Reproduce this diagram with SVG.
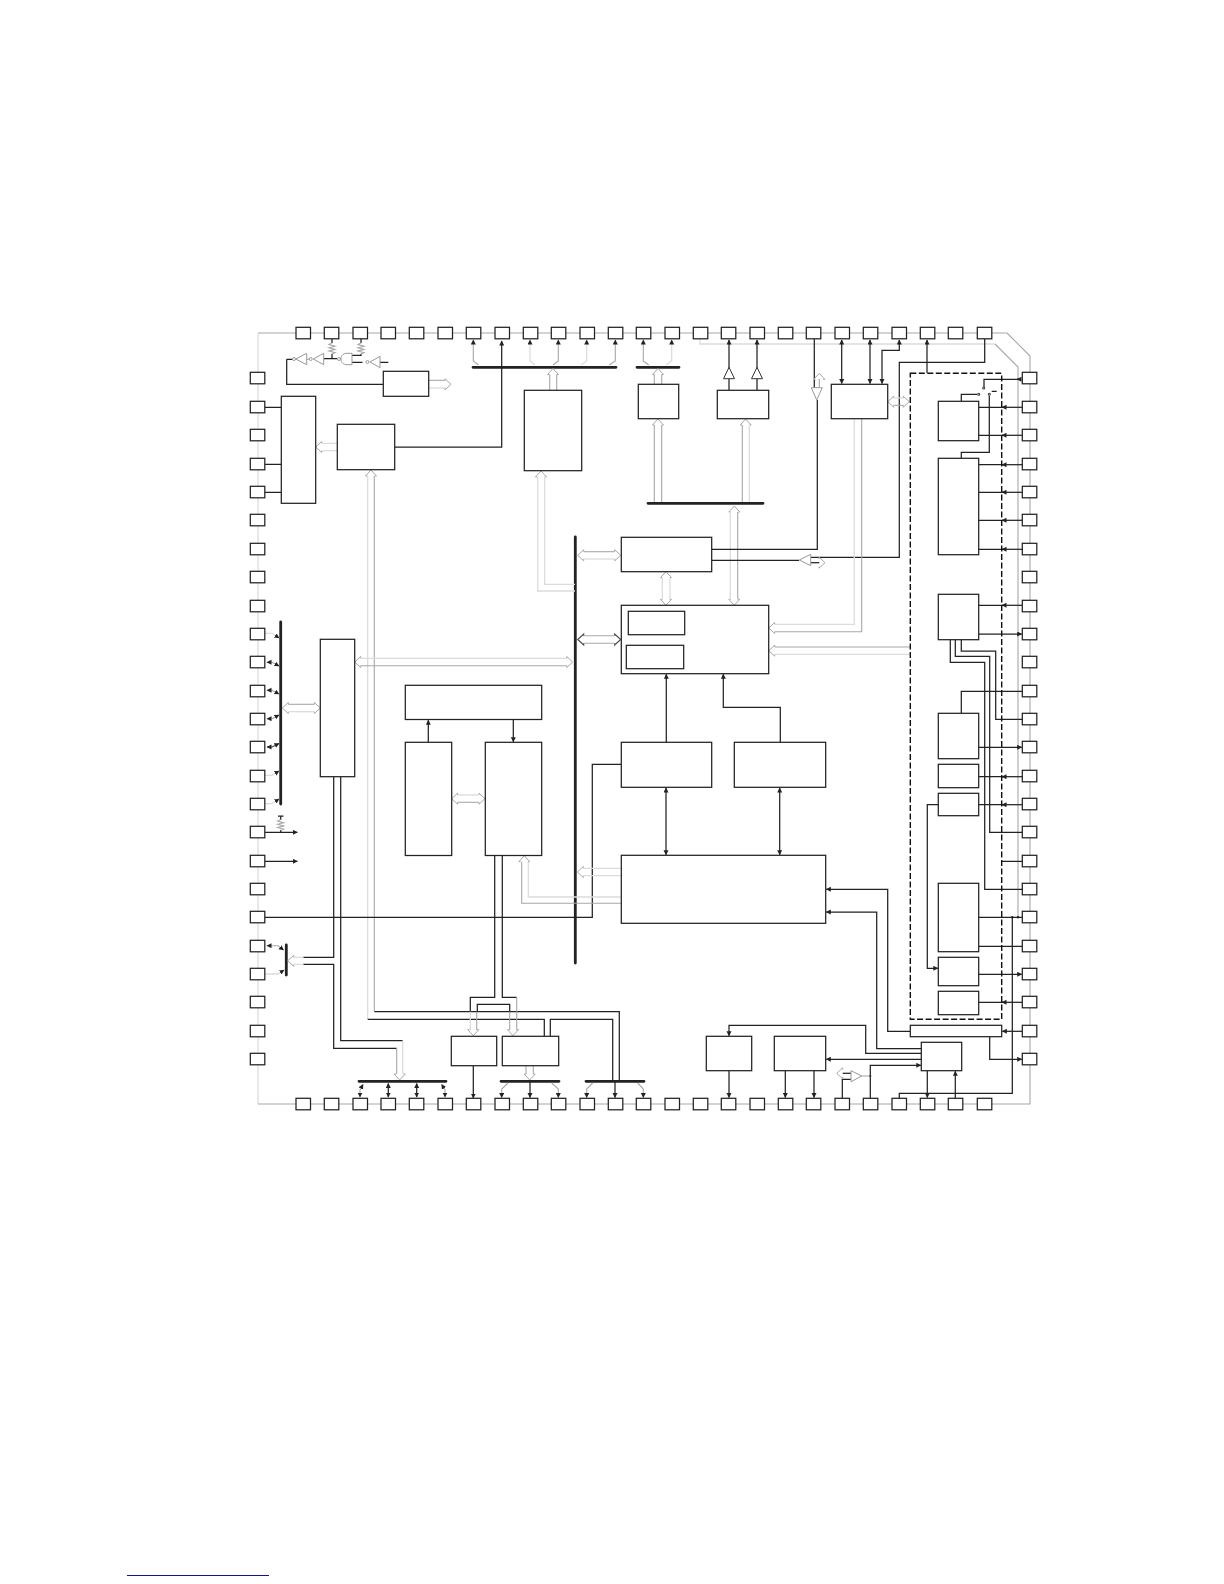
<svg xmlns="http://www.w3.org/2000/svg" width="1224" height="1584" viewBox="0 0 1224 1584">
<style>
rect{fill:#fff;stroke:#222;stroke-width:1.25}
.p{width:14.5px;height:11.5px}
path,line,polyline{fill:none}
.d{stroke:#222;stroke-width:1.25}
.a{marker-end:url(#ar)}
.aa{marker-end:url(#ar);marker-start:url(#ar)}
.g{stroke:#a8a8a8;stroke-width:1.1}
.l{stroke:#dcdcdc;stroke-width:1.3}
.b{stroke:#222;stroke-width:2.8;stroke-linecap:round}
.h{stroke:#a8a8a8;stroke-width:1;fill:none}
.k{stroke:#444;stroke-width:1.1;fill:none}
.t{fill:#fff;stroke:#999;stroke-width:1}
.t2{fill:#fff;stroke:#333;stroke-width:1}
.dash{stroke:#111;stroke-width:1.4;stroke-dasharray:6 2.5;fill:none}
</style>
<defs>
<marker id="ar" markerUnits="userSpaceOnUse" markerWidth="6" markerHeight="6" refX="4.5" refY="2.5" orient="auto-start-reverse"><path d="M0 0L5 2.5L0 5Z" style="fill:#222;stroke:none"/></marker>
<path id="hu" d="M-3.7 6H-5.5L0 0L5.5 6H3.7"/>
<path id="hd" d="M-3.7 -6H-5.5L0 0L5.5 -6H3.7"/>
<path id="hl" d="M6 -3.7V-5.5L0 0L6 5.5V3.7"/>
<path id="hr" d="M-6 -3.7V-5.5L0 0L-6 5.5V3.7"/>
<path id="zz" d="M0 0L-3 1.6L3 3.2L-3 4.8L3 6.4L-3 8L3 9.6L0 11"/>
</defs>

<g id="outline">
<path class="g" d="M1007 333H258"/>
<path class="l" d="M258 333V1104"/>
<path class="g" d="M258 1104H1030V356L1007 333"/>
<path class="l" d="M700 338V344H995" />
<path class="g" d="M995 344L1018 367V917"/>
</g>

<g id="connectors">
<path class="b" d="M473 367.3H616M637 367.3H679M648 503.3H763M575.3 537V963M280.7 622V804M286.3 945V975M359 1081.3H446M501 1081.3H559M586 1081.3H644"/>

<path class="d" d="M332 338.500V343M332 354V358.300M361 338.500V343M361 354V355.300H352M352 362.300H362.500"/>
<use href="#zz" x="332" y="343" class="g"/><use href="#zz" x="361" y="343" class="g"/>
<path class="d" d="M337 358.700H323.700M286.700 359.300V384.300H383.300M286.700 359.300H292M380 362.300H388.300"/>
<path class="g" d="M306.700 359.300H309"/>

<path class="d" d="M265 407.300H281.300M265 464.300H281.300M265 492.300H281.300M394.700 447H501.700V341" marker-end="url(#ar)"/>
<path class="g" d="M428.700 380.300H445"/><path class="l" d="M428.700 388H445"/>
<use href="#hr" x="451" y="384.300" class="h"/>
<path class="l" d="M322 443.300H337.300M322 450.700H337.300"/>
<use href="#hl" x="315.700" y="447" class="h"/>
<use href="#hu" x="371" y="470" class="h"/>
<path class="l" d="M367.700 476V1019.300"/><path class="g" d="M374.300 476V1011.300"/>
<path class="d" d="M367.700 1019.300H544.300V1036.300M374.300 1011.700H619.300V1080M550.300 1036.300V1019.300H612.700V1080"/>

<path class="g a" d="M478.500 365L473.300 361V340" style="marker-start:none"/>
<path class="l a" d="M535 365L530 361V340"/>
<path class="g a" d="M553 365L558.300 361V340"/>
<path class="l a" d="M581 365L586.700 361V340"/>
<path class="g a" d="M609 365L615.300 361V340"/>
<path class="g a" d="M648.700 365L643.300 361V340"/>
<path class="l a" d="M666 365L671.700 361V340"/>
<use href="#hu" x="553" y="368.500" class="h"/>
<path class="g" d="M549.700 374.500V390.300"/><path class="g" d="M556.700 374.500V390.300"/>
<use href="#hu" x="541" y="471" class="h"/>
<path class="l" d="M537.700 477V591H575M544.700 477V584.300H575"/>
<use href="#hu" x="658" y="368.500" class="h"/>
<path class="g" d="M654.300 374.500V384.300M661.700 374.500V384.300"/>
<use href="#hu" x="658" y="419" class="h"/>
<path class="g" d="M654.300 425V502M661.700 425V502"/>
<use href="#hu" x="745.700" y="419" class="h"/>
<path class="g" d="M742.300 425V502"/><path class="l" d="M749.300 425V502"/>
<path class="d a" d="M729 390.300V340"/><path class="d a" d="M757 390.300V340"/>
<use href="#hu" x="734.300" y="506" class="h"/><use href="#hd" x="734.300" y="605.300" class="h"/>
<path class="l" d="M730.300 512V599.300"/><path class="g" d="M737.700 512V599.300"/>
<use href="#hl" x="577.700" y="555.300" class="h"/><use href="#hr" x="620.700" y="555.300" class="h"/>
<path class="g" d="M583.700 551.700H614.700"/><path class="l" d="M583.700 559H614.700"/>
<use href="#hl" x="577.700" y="639.500" class="k"/><use href="#hr" x="620.700" y="639.500" class="k"/>
<path class="g" d="M583.700 635.700H614.700M583.700 643.300H614.700"/>
<use href="#hu" x="666" y="571.700" class="h"/><use href="#hd" x="666" y="605.300" class="h"/>
<path class="l" d="M662.300 577.700V599.300M670 577.700V599.300"/>
<use href="#hl" x="354.700" y="662" class="h"/><use href="#hr" x="572.700" y="662" class="h"/>
<path class="l" d="M360.700 658.300H566.700"/><path class="g" d="M360.700 665.700H566.700"/>
<path class="d" d="M711.700 549.300H817.300V400M711.700 560.300H799M810.700 557.300H899.300V362.300H984.700V338.500M814.300 338.500V388"/>
<path class="g" d="M819.300 379V387"/><use href="#hu" x="819.300" y="373.300" class="h"/>
<path class="d" d="M810.700 562.700H819.300"/>
<use href="#hr" x="825" y="562.700" class="h"/>
<path class="d aa" d="M841.700 340V383.500"/><path class="d aa" d="M870 340V383.500"/>
<path class="d aa" d="M882 383.500V350.300H899.300V340"/>
<path class="d a" d="M927 373V340"/>
<use href="#hl" x="887.700" y="401.700" class="h"/><use href="#hr" x="909.300" y="401.700" class="h"/>
<path class="l" d="M893.700 398H903.300"/><path class="g" d="M893.700 405.300H903.300"/>
<use href="#hl" x="768.700" y="628" class="h"/>
<path class="l" d="M854.300 418.700V624.300H774.700"/><path class="g" d="M861.700 418.700V631.700H774.700"/>
<use href="#hl" x="768.700" y="650.700" class="h"/>
<path class="g" d="M910.300 647H774.700"/><path class="l" d="M910.300 654.300H774.700"/>
<path class="l a" d="M265 633.300H272L279 638"/>
<path class="g aa" d="M267 662.300H272L279 666"/>
<path class="g aa" d="M267 690.300H272L279 694"/>
<path class="g aa" d="M267 718.700H272L279 715"/>
<path class="k aa" d="M267 747H272L279 743.500"/>
<path class="l a" d="M265 775.300H272L279 771"/>
<path class="l a" d="M265 803.700H272L279 799"/>
<use href="#hl" x="282.300" y="708" class="h"/><use href="#hr" x="320.300" y="708" class="h"/>
<path class="g" d="M288.300 704.300H314.300"/><path class="l" d="M288.300 711.700H314.300"/>
<path class="d" d="M278 816H283.500M280.700 816V820M280.700 830V832.300"/>
<use href="#zz" x="280.700" y="819.500" class="g"/>
<path class="d a" d="M265 832.300H297.300"/><path class="d a" d="M265 861.300H297.300"/>
<path class="d" d="M265 917.300H592.300V764.300H621.300"/>
<path class="d a" d="M428.300 742.300V720.300"/><path class="d a" d="M513.300 719.700V741.700"/>
<use href="#hl" x="451.700" y="798.700" class="h"/><use href="#hr" x="485" y="798.700" class="h"/>
<path class="l" d="M457.700 795H479"/><path class="g" d="M457.700 802.300H479"/>
<path class="d" d="M333.700 776.700V957.300H303.300M303.300 964.300H333.700V1048.300H396.700M340.700 776.700V1040.700H402.700"/>
<use href="#hl" x="287.700" y="960.800" class="h"/>
<path class="l" d="M293.700 957.300H303.300M293.700 964.300H303.300"/>
<path class="g" d="M396.700 1048.300V1074"/><path class="l" d="M402.700 1040.700V1074"/>
<use href="#hd" x="399.700" y="1080" class="h"/>
<path class="g aa" d="M267 945.700H278L283.500 950"/>
<path class="l a" d="M265 974H278L284 970"/>
<path class="d" d="M494.700 855.300V997.300H470.300V1011.700M502.300 855.300V997.300H516.700M477.300 1011.700V1004.300H509.700V1011.700"/>
<path class="g" d="M516.700 997.300V1011.700"/>
<path class="l" d="M470.300 1011.700V1030"/><path class="g" d="M476.700 1011.700V1030M509.700 1011.700V1030M516.700 1011.700V1030"/>
<use href="#hd" x="473.300" y="1035.700" class="h"/><use href="#hd" x="513" y="1035.700" class="h"/>
<path class="g" d="M526 1065.700V1074M533.300 1065.700V1074"/><use href="#hd" x="529.700" y="1080" class="h"/>
<path class="g aa" d="M363 1084.500L360 1090V1097"/>
<path class="d aa" d="M388.300 1083.500V1097"/>
<path class="d aa" d="M416.700 1083.500V1097"/>
<path class="g aa" d="M441.700 1084.500L445 1090V1097"/>
<path class="d a" d="M473.300 1065.700V1098"/>
<path class="g a" d="M508 1083L501.700 1089V1097.500"/>
<path class="d a" d="M530 1082V1097.500"/>
<path class="g a" d="M551.700 1083L558.300 1089V1097.500"/>
<path class="g a" d="M592.700 1083L586.700 1089V1097.500"/>
<path class="d a" d="M615 1082V1097.500"/>
<path class="g a" d="M637.700 1083L643.300 1089V1097.500"/>
<path class="d a" d="M729 1070.700V1097.500"/>
<path class="d a" d="M785.300 1070.700V1097.500"/><path class="d a" d="M814 1070.700V1097.500"/>
<path class="d a" d="M927.300 1070.700V1097.500"/><path class="d a" d="M955.300 1098V1071.300"/>
<path class="d" d="M842.300 1098V1079.300H851"/>
<path class="d" d="M851 1073.300H842.700"/><use href="#hl" x="836.700" y="1073.300" class="h"/>
<path class="d a" d="M870.300 1098V1065.300H920.800"/>
<path class="g" d="M861.700 1076H870.300"/>
<path class="d" d="M899.300 1098V1093.300H1012.300V917.300"/>
<path class="d a" d="M921.300 1059.300H826.300"/>
<path class="d a" d="M921.300 1053.300H865.700V1025.300H729V1035.800"/>
<path class="d a" d="M921.300 1048.700H876.700V912H826.300"/>
<path class="d a" d="M910.300 1031.300H887.700V889.300H826.300"/>
<path class="d a" d="M1022 1031.300H1002.300"/>
<path class="d a" d="M989.700 1036.700V1059.300H1021.700"/>
<path class="d a" d="M666.300 742.300V674.300"/>
<path class="d a" d="M780.300 742.300V707.300H723.300V674.300"/>
<path class="d aa" d="M666 788V854.700"/>
<path class="d aa" d="M779.700 788V854.700"/>
<use href="#hl" x="577.300" y="872" class="h"/>
<path class="l" d="M583.300 868.300H621.300M583.300 875.700H621.300"/>
<use href="#hu" x="524.300" y="855.700" class="h"/>
<path class="l" d="M528.300 861.700V897H621.300"/><path class="g" d="M521.700 861.700V903.300H621.300"/>

<path class="d" d="M1021 379.300H984V387M961.300 401.300V394.300H977M989.300 396V452.300H961.300V458.300M991.700 391.300H996.700"/>
<path class="d" d="M1021 379.300H1017" marker-end="url(#ar)"/>
<path class="d" d="M1003 407.300H978.700M1003 435.300H978.700M1003 464.700H978.700M1003 492.300H978.700M1003 520.300H978.700M1003 549.300H978.700M1003 605.300H978.700M1003 776.700H978.700M1003 804.700H978.700M1003 1002.300H978.700"/>
<path class="d a" d="M1022 407.300H1002"/><path class="d a" d="M1022 435.300H1002"/><path class="d a" d="M1022 464.700H1002"/><path class="d a" d="M1022 492.300H1002"/><path class="d a" d="M1022 520.300H1002"/><path class="d a" d="M1022 549.300H1002"/><path class="d a" d="M1022 605.300H1002"/><path class="d a" d="M1022 776.700H1002"/><path class="d a" d="M1022 804.700H1002"/><path class="d a" d="M1022 1002.300H1002"/>
<path class="d a" d="M978.700 634H1021.700"/>
<path class="d a" d="M978.700 747.300H1021.700"/>
<path class="d a" d="M978.700 974.300H1021.700"/>
<path class="d" d="M961.300 639.700V651H995.700V719.300H1022M955.300 639.700V656.300H989.700V832.300H1022M950.300 639.700V662.300H984.700V889.300H1022M1022 691.300H961.300V713.300"/>
<path class="d" d="M1022 861.300H1001.700M978.700 917.300H1022M978.700 946.300H1022"/>
<path class="d a" d="M938.300 804.700H927.300V968.300H937.800"/>
<circle cx="1012.300" cy="917.300" r="1.200" style="fill:#222"/><circle cx="1018" cy="917.300" r="1.200" style="fill:#222"/><circle cx="870.300" cy="1076" r="1" style="fill:#222"/>
</g>

<g id="oscillator-gates">
<polygon class="t" points="295.700,359 306.700,353.300 306.700,364.700"/><circle class="t" cx="294" cy="359" r="1.500"/>
<polygon class="t" points="313.300,359 323.700,353.300 323.700,364.700"/><circle class="t" cx="310.700" cy="359" r="1.500"/>
<path class="t" d="M341 359C341 355 344 353.300 347 353.300H352V364.700H347C344 364.700 341 363 341 359Z"/><circle class="t" cx="339" cy="359" r="1.500"/>
<polygon class="t" points="370,362 380,356.300 380,367.700"/><circle class="t" cx="367.500" cy="362" r="1.500"/>
</g>
<g id="buffers">
<polygon class="t2" points="729,367.300 723.500,378.700 734.500,378.700"/>
<polygon class="t2" points="757,367.300 751.500,378.700 762.500,378.700"/>
<polygon class="t" points="816.700,400 811.300,387.700 822.300,387.700"/>
<polygon class="t" points="799.300,560 810.700,554.300 810.700,565.700"/>
<polygon class="t" points="861.700,1076 851,1070.700 851,1081.700"/>
<circle class="k" style="fill:#fff" cx="983.700" cy="388" r="1"/><circle class="k" style="fill:#fff" cx="978.700" cy="394.300" r="1"/><circle class="k" style="fill:#fff" cx="989.300" cy="394.300" r="1"/>
</g>

<path id="dashed-region" class="dash" d="M910.300 373.300H1001.700V1019.300H910.300Z"/>

<g id="blocks">
<g id="n01"><rect x="383.300" y="371.300" width="45.400" height="25"/></g>
<g id="n02"><rect x="281.300" y="396.300" width="34.400" height="107"/></g>
<g id="n03"><rect x="337.300" y="424.300" width="57.400" height="45.400"/></g>
<g id="n04"><rect x="524.300" y="390.300" width="57.400" height="80.400"/></g>
<g id="n05"><rect x="638.300" y="384.300" width="40.400" height="34.400"/></g>
<g id="n06"><rect x="717.300" y="390.300" width="51.400" height="28.400"/></g>
<g id="n07"><rect x="831.300" y="384.300" width="56.400" height="34.400"/></g>
<g id="n08"><rect x="621.300" y="537.300" width="90.400" height="34.400"/></g>
<g id="n09"><rect x="621.300" y="605.300" width="147.400" height="68.400"/></g>
<g id="n10"><rect x="628.300" y="611.300" width="56.400" height="23.400"/></g>
<g id="n11"><rect x="626.300" y="645.300" width="57.400" height="23.400"/></g>
<g id="n12"><rect x="621.300" y="742.300" width="90.400" height="45"/></g>
<g id="n13"><rect x="734.300" y="742.300" width="91.400" height="45"/></g>
<g id="n14"><rect x="405.300" y="685.300" width="136.400" height="34.200"/></g>
<g id="n15"><rect x="405.300" y="742.300" width="46.400" height="113.200"/></g>
<g id="n16"><rect x="485.300" y="742.300" width="56.400" height="113.200"/></g>
<g id="n17"><rect x="621.300" y="855.300" width="204.400" height="68"/></g>
<g id="n18"><rect x="320.300" y="639.300" width="34.400" height="137.400"/></g>
<g id="n19"><rect x="451.300" y="1036.300" width="45.400" height="29.400"/></g>
<g id="n20"><rect x="502.300" y="1036.300" width="56.400" height="29.400"/></g>
<g id="n21"><rect x="706.300" y="1036.300" width="45.400" height="34.400"/></g>
<g id="n22"><rect x="774.300" y="1036.300" width="51.400" height="34.400"/></g>
<g id="n23"><rect x="921.300" y="1042.300" width="40.400" height="28.400"/></g>
<g id="n24"><rect x="910.300" y="1025.300" width="91.400" height="11.400"/></g>
<g id="n25"><rect x="938.300" y="401.300" width="40.400" height="39.400"/></g>
<g id="n26"><rect x="938.300" y="458.300" width="40.400" height="96.400"/></g>
<g id="n27"><rect x="938.300" y="594.300" width="40.400" height="45.400"/></g>
<g id="n28"><rect x="938.300" y="713.300" width="40.400" height="45.400"/></g>
<g id="n29"><rect x="938.300" y="764.300" width="40.400" height="23.400"/></g>
<g id="n30"><rect x="938.300" y="793.300" width="40.400" height="22.400"/></g>
<g id="n31"><rect x="938.300" y="883.300" width="40.400" height="68.400"/></g>
<g id="n32"><rect x="938.300" y="957.300" width="40.400" height="28.400"/></g>
<g id="n33"><rect x="938.300" y="991.300" width="40.400" height="23.400"/></g>
</g>

<g id="pins-top">
<g id="t1"><rect class="p" x="296" y="327.300"/></g><g id="t2"><rect class="p" x="324.300" y="327.300"/></g><g id="t3"><rect class="p" x="353" y="327.300"/></g><g id="t4"><rect class="p" x="381" y="327.300"/></g><g id="t5"><rect class="p" x="409.300" y="327.300"/></g><g id="t6"><rect class="p" x="438" y="327.300"/></g><g id="t7"><rect class="p" x="466.300" y="327.300"/></g><g id="t8"><rect class="p" x="495" y="327.300"/></g><g id="t9"><rect class="p" x="523.300" y="327.300"/></g><g id="t10"><rect class="p" x="551.300" y="327.300"/></g><g id="t11"><rect class="p" x="580" y="327.300"/></g><g id="t12"><rect class="p" x="608.300" y="327.300"/></g><g id="t13"><rect class="p" x="636.300" y="327.300"/></g><g id="t14"><rect class="p" x="665" y="327.300"/></g><g id="t15"><rect class="p" x="693.300" y="327.300"/></g><g id="t16"><rect class="p" x="721.300" y="327.300"/></g><g id="t17"><rect class="p" x="750" y="327.300"/></g><g id="t18"><rect class="p" x="778.300" y="327.300"/></g><g id="t19"><rect class="p" x="806.300" y="327.300"/></g><g id="t20"><rect class="p" x="835" y="327.300"/></g><g id="t21"><rect class="p" x="863.300" y="327.300"/></g><g id="t22"><rect class="p" x="892" y="327.300"/></g><g id="t23"><rect class="p" x="920.300" y="327.300"/></g><g id="t24"><rect class="p" x="948.300" y="327.300"/></g><g id="t25"><rect class="p" x="977.300" y="327.300"/></g>
</g>
<g id="pins-bottom">
<g id="b1"><rect class="p" x="296" y="1098.300"/></g><g id="b2"><rect class="p" x="324.300" y="1098.300"/></g><g id="b3"><rect class="p" x="353" y="1098.300"/></g><g id="b4"><rect class="p" x="381" y="1098.300"/></g><g id="b5"><rect class="p" x="409.300" y="1098.300"/></g><g id="b6"><rect class="p" x="438" y="1098.300"/></g><g id="b7"><rect class="p" x="466.300" y="1098.300"/></g><g id="b8"><rect class="p" x="495" y="1098.300"/></g><g id="b9"><rect class="p" x="523.300" y="1098.300"/></g><g id="b10"><rect class="p" x="551.300" y="1098.300"/></g><g id="b11"><rect class="p" x="580" y="1098.300"/></g><g id="b12"><rect class="p" x="608.300" y="1098.300"/></g><g id="b13"><rect class="p" x="636.300" y="1098.300"/></g><g id="b14"><rect class="p" x="665" y="1098.300"/></g><g id="b15"><rect class="p" x="693.300" y="1098.300"/></g><g id="b16"><rect class="p" x="721.300" y="1098.300"/></g><g id="b17"><rect class="p" x="750" y="1098.300"/></g><g id="b18"><rect class="p" x="778.300" y="1098.300"/></g><g id="b19"><rect class="p" x="806.300" y="1098.300"/></g><g id="b20"><rect class="p" x="835" y="1098.300"/></g><g id="b21"><rect class="p" x="863.300" y="1098.300"/></g><g id="b22"><rect class="p" x="892" y="1098.300"/></g><g id="b23"><rect class="p" x="920.300" y="1098.300"/></g><g id="b24"><rect class="p" x="948.300" y="1098.300"/></g><g id="b25"><rect class="p" x="977.300" y="1098.300"/></g>
</g>
<g id="pins-left">
<g id="l1"><rect class="p" x="250.300" y="372.300"/></g><g id="l2"><rect class="p" x="250.300" y="401.300"/></g><g id="l3"><rect class="p" x="250.300" y="429.300"/></g><g id="l4"><rect class="p" x="250.300" y="458.300"/></g><g id="l5"><rect class="p" x="250.300" y="486.300"/></g><g id="l6"><rect class="p" x="250.300" y="514.300"/></g><g id="l7"><rect class="p" x="250.300" y="543.300"/></g><g id="l8"><rect class="p" x="250.300" y="571.300"/></g><g id="l9"><rect class="p" x="250.300" y="600.300"/></g><g id="l10"><rect class="p" x="250.300" y="628.300"/></g><g id="l11"><rect class="p" x="250.300" y="656.300"/></g><g id="l12"><rect class="p" x="250.300" y="685.300"/></g><g id="l13"><rect class="p" x="250.300" y="713.300"/></g><g id="l14"><rect class="p" x="250.300" y="741.300"/></g><g id="l15"><rect class="p" x="250.300" y="770.300"/></g><g id="l16"><rect class="p" x="250.300" y="798.300"/></g><g id="l17"><rect class="p" x="250.300" y="826.300"/></g><g id="l18"><rect class="p" x="250.300" y="855.300"/></g><g id="l19"><rect class="p" x="250.300" y="883.300"/></g><g id="l20"><rect class="p" x="250.300" y="911.300"/></g><g id="l21"><rect class="p" x="250.300" y="940.300"/></g><g id="l22"><rect class="p" x="250.300" y="968.300"/></g><g id="l23"><rect class="p" x="250.300" y="996.300"/></g><g id="l24"><rect class="p" x="250.300" y="1025.300"/></g><g id="l25"><rect class="p" x="250.300" y="1053.300"/></g>
</g>
<g id="pins-right">
<g id="r1"><rect class="p" x="1022.300" y="372.300"/></g><g id="r2"><rect class="p" x="1022.300" y="401.300"/></g><g id="r3"><rect class="p" x="1022.300" y="429.300"/></g><g id="r4"><rect class="p" x="1022.300" y="458.300"/></g><g id="r5"><rect class="p" x="1022.300" y="486.300"/></g><g id="r6"><rect class="p" x="1022.300" y="514.300"/></g><g id="r7"><rect class="p" x="1022.300" y="543.300"/></g><g id="r8"><rect class="p" x="1022.300" y="571.300"/></g><g id="r9"><rect class="p" x="1022.300" y="600.300"/></g><g id="r10"><rect class="p" x="1022.300" y="628.300"/></g><g id="r11"><rect class="p" x="1022.300" y="656.300"/></g><g id="r12"><rect class="p" x="1022.300" y="685.300"/></g><g id="r13"><rect class="p" x="1022.300" y="713.300"/></g><g id="r14"><rect class="p" x="1022.300" y="741.300"/></g><g id="r15"><rect class="p" x="1022.300" y="770.300"/></g><g id="r16"><rect class="p" x="1022.300" y="798.300"/></g><g id="r17"><rect class="p" x="1022.300" y="826.300"/></g><g id="r18"><rect class="p" x="1022.300" y="855.300"/></g><g id="r19"><rect class="p" x="1022.300" y="883.300"/></g><g id="r20"><rect class="p" x="1022.300" y="911.300"/></g><g id="r21"><rect class="p" x="1022.300" y="940.300"/></g><g id="r22"><rect class="p" x="1022.300" y="968.300"/></g><g id="r23"><rect class="p" x="1022.300" y="996.300"/></g><g id="r24"><rect class="p" x="1022.300" y="1025.300"/></g><g id="r25"><rect class="p" x="1022.300" y="1053.300"/></g>
</g>
<line x1="127" y1="1575.500" x2="269" y2="1575.500" style="stroke:#14148a;stroke-width:1.2"/>
</svg>
